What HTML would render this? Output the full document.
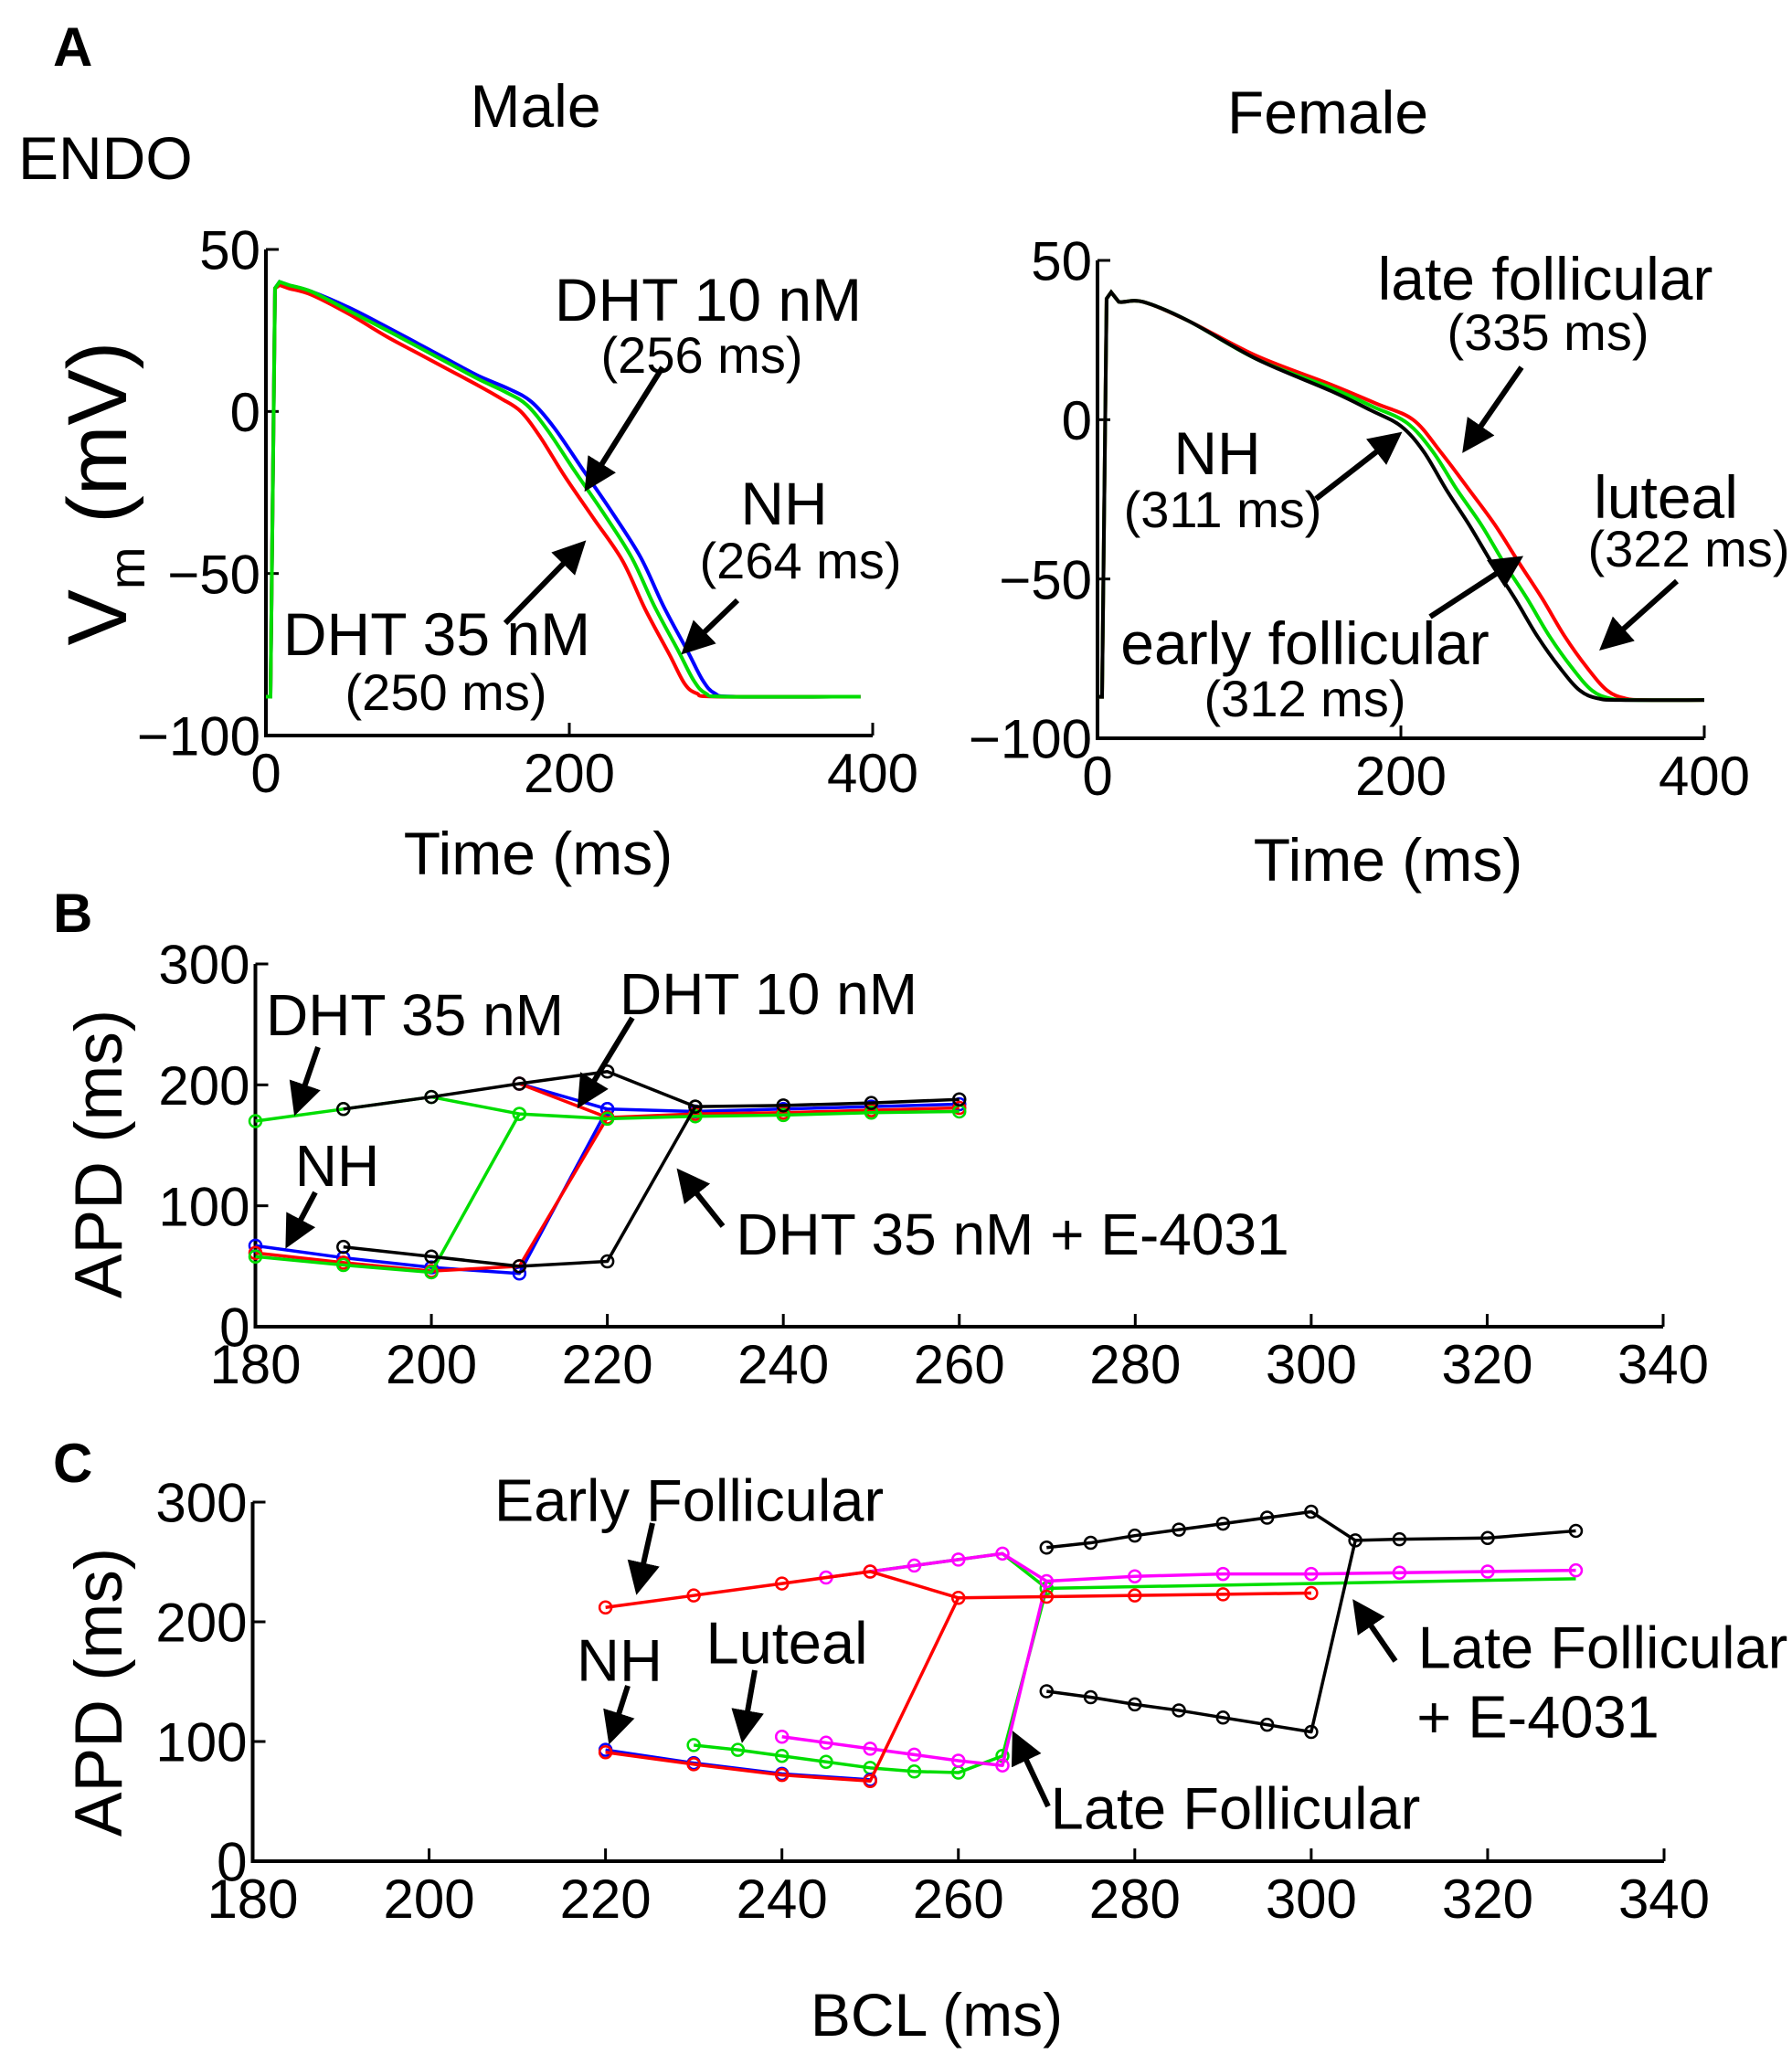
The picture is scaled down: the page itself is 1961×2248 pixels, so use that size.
<!DOCTYPE html>
<html><head><meta charset="utf-8"><style>
html,body{margin:0;padding:0;background:#fff;}
svg{display:block;font-family:"Liberation Sans",sans-serif;}
</style></head><body>
<svg id="fig" width="1961" height="2248" viewBox="0 0 1961 2248" xmlns="http://www.w3.org/2000/svg">
<defs><marker id="ah" markerWidth="6" markerHeight="6" refX="4" refY="3" orient="auto" markerUnits="strokeWidth"><path d="M0,0 L6,3 L0,6 z" fill="#000"/></marker></defs>
<g id="static" fill="#000">
<text x="58" y="72" font-size="60" font-weight="bold">A</text>
<text x="586" y="139" font-size="66" text-anchor="middle">Male</text>
<text x="1453" y="146" font-size="66" text-anchor="middle">Female</text>
<text x="20" y="196" font-size="66">ENDO</text>
<text transform="translate(138,540) rotate(-90)" font-size="92" text-anchor="middle">V<tspan font-size="56" dy="20">m</tspan><tspan dy="-20"> (mV)</tspan></text>
<text x="589" y="957" font-size="66" text-anchor="middle">Time (ms)</text>
<text x="1519" y="964" font-size="66" text-anchor="middle">Time (ms)</text>
<text x="58" y="1020" font-size="60" font-weight="bold">B</text>
<text transform="translate(133,1263) rotate(-90)" font-size="73" text-anchor="middle">APD (ms)</text>
<text x="58" y="1622" font-size="60" font-weight="bold">C</text>
<text transform="translate(133,1852) rotate(-90)" font-size="73" text-anchor="middle">APD (ms)</text>
<text x="1025" y="2228" font-size="66" text-anchor="middle">BCL (ms)</text>
</g>
<g id="plots"></g>
</svg>
<script>
// ---- Panel A male data (t ms, V mV)
const maleNH_t=[0,3,6,9,15,30,55,80,100,120,140,160,175,190,209,228,247,262,278,288,296,310,392];
const maleNH_v=[-88,-88,38,40,39,37,32,26,21,16,11,7,3,-5,-18,-31,-45,-60,-74,-83,-87,-88,-88];
const male10_t=[0,3,6,9,15,30,55,80,100,120,140,158,172,186,203,222,241,256,272,282,290,304,392];
const male10_v=[-88,-88,38,40,39,37,31,25,20,15,10,6,2,-6,-18,-31,-45,-60,-74,-83,-87,-88,-88];
const male35_t=[0,3,6,9,15,30,55,80,100,120,140,155,168,181,197,216,235,250,266,276,284,298,392];
const male35_v=[-88,-88,38,39,38,36,30,23,18,13,8,4,0,-8,-20,-33,-46,-61,-75,-84,-87,-88,-88];
// ---- Panel A female data
const femNH_t=[0,3,6,9,14,30,60,105,154,180,200,215,230,245,260,275,290,305,318,330,345,400];
const femNH_v=[-87,-87,38,40,37,37,31,19,9,3,-2,-10,-22,-33,-45,-56,-68,-78,-85,-87.5,-88,-88];
const femLut_t=[0,3,6,9,14,30,60,105,154,182,204,221,237,253,268,283,298,313,326,338,353,400];
const femLut_v=[-87,-87,38,40,37,37,31,19,10,4,-1,-10,-22,-33,-45,-56,-68,-78,-85,-87.5,-88,-88];
const femLate_t=[0,3,6,9,14,30,60,105,154,184,208,226,245,262,278,293,308,323,336,348,362,400];
const femLate_v=[-87,-87,38,40,37,37,31,20,11,5,0,-10,-22,-33,-45,-56,-68,-78,-85,-87.5,-88,-88];
const aYTicks=[50,0,-50,-100];
const aXTicks=[0,200,400];
// ---- Panel B data (BCL, APD)
const bBlack1_x=[190,200,210,220,230,240,250,260];
const bBlack1_y=[180,190,201,211,182,183,185,188];
const bBlack2_x=[190,200,210,220,230];
const bBlack2_y=[66,58,50,54,182];
const bGreen1_x=[180,190,200,210,220,230,240,250,260];
const bGreen1_y=[170,180,190,176,172,174,175,177,178];
const bGreen2_x=[180,190,200,210];
const bGreen2_y=[58,51,45,176];
const bBlue1_x=[210,220,230,240,250,260];
const bBlue1_y=[201,180,178,180,182,184];
const bBlue2_x=[180,190,200,210,220];
const bBlue2_y=[67,57,49,44,180];
const bRed1_x=[210,220,230,240,250,260];
const bRed1_y=[201,173,176,177,179,181];
const bRed2_x=[180,190,200,210,220];
const bRed2_y=[61,53,46,50,173];
// ---- Panel C data
const cBlackU_x=[270,275,280,285,290,295,300,305];
const cBlackU_y=[262,266,272,277,282,287,292,268];
const cBlackL_x=[270,275,280,285,290,295,300,305,310,320,330];
const cBlackL_y=[142,137,131,126,120,114,108,268,269,270,276];
const cMagU_x=[245,250,255,260,265,270];
const cMagU_y=[237,242,247,252,257,234];
const cMagL_x=[240,245,250,255,260,265,270,280,290,300,310,320,330];
const cMagL_y=[104,99,94,89,84,80,234,238,240,240,241,242,243];
const cGreenU_x=[250,265,270,330];
const cGreenU_y=[242,257,228,236];
const cGreenL_x=[230,235,240,245,250,255,260,265,270];
const cGreenL_y=[97,93,88,83,78,75,74,88,228];
const cBlue_x=[220,230,240,250];
const cBlue_y=[93,82,73,68];
const cRedU_x=[220,230,240,250,260,270,280,290,300];
const cRedU_y=[212,222,232,242,220,221,222,223,224];
const cRedL_x=[220,230,240,250,260];
const cRedL_y=[91,81,72,67,220];
const bcTicksY=[0,100,200,300];
const bcTicksX=[180,200,220,240,260,280,300,320,340];

const NS='http://www.w3.org/2000/svg';
const root=document.getElementById('plots');
function mk(tag,attrs,parent){const e=document.createElementNS(NS,tag);for(const k in attrs)e.setAttribute(k,attrs[k]);(parent||root).appendChild(e);return e;}
function lin(d0,d1,r0,r1){return v=>r0+(v-d0)/(d1-d0)*(r1-r0);}
function smoothPath(xs,ys){let d='M'+xs[0]+','+ys[0];for(let i=0;i<xs.length-1;i++){const x0=xs[Math.max(0,i-1)],y0=ys[Math.max(0,i-1)],x1=xs[i],y1=ys[i],x2=xs[i+1],y2=ys[i+1],x3=xs[Math.min(xs.length-1,i+2)],y3=ys[Math.min(xs.length-1,i+2)];const k=(i<4)?0:1/6;d+=' C'+(x1+(x2-x0)*k)+','+(y1+(y2-y0)*k)+' '+(x2-(x3-x1)*k)+','+(y2-(y3-y1)*k)+' '+x2+','+y2;}return d;}
function axes(g,x0,x1,y0,y1,sx,sy,xt,yt,fs){
  const a=mk('path',{d:`M${x0},${y1} L${x0},${y0} L${x1},${y0}`,stroke:'#000','stroke-width':4,fill:'none'},g);
  
  
  xt.forEach(v=>{const X=sx(v);const t=mk('line',{x1:X,x2:X,y1:y0,y2:y0-14,stroke:'#000','stroke-width':3},g);
    
    
    const l=mk('text',{x:X,y:y0+fs+2,'font-size':fs,'text-anchor':'middle'},g);l.textContent=v;
    
    });
  yt.forEach(v=>{const Y=sy(v);const t=mk('line',{x1:x0,x2:x0+14,y1:Y,y2:Y,stroke:'#000','stroke-width':3},g);
    
    
    const l=mk('text',{x:x0-6,y:Y+fs*0.36,'font-size':fs,'text-anchor':'end'},g);l.textContent=(v<0?'\u2212'+(-v):v);
    
    });
}
function curve(g,ts,vs,sx,sy,col,name){const p=mk('path',{d:smoothPath(ts.map(sx),vs.map(sy)),stroke:col,'stroke-width':4,fill:'none'},g);
  
  }
function series(g,xs,ys,sx,sy,col,name,markers){
  const pts=xs.map((x,i)=>sx(x)+','+sy(ys[i])).join(' ');
  const p=mk('polyline',{points:pts,stroke:col,'stroke-width':3.5,fill:'none','stroke-linejoin':'round'},g);
  
  
  xs.forEach((x,i)=>{if(markers&&!markers(i))return;const c=mk('circle',{cx:sx(x),cy:sy(ys[i]),r:6.5,stroke:col,'stroke-width':2.5,fill:'none'},g);
    
    });
}
function txt(g,x,cy,s,fs,name){const t=mk('text',{x:x,y:cy+fs*0.36,'font-size':fs,'text-anchor':'middle'},g);t.textContent=s;
  
  }
function arrow(g,x1,y1,x2,y2,name){const l=mk('line',{x1:x1,y1:y1,x2:x2,y2:y2,stroke:'#000','stroke-width':6,'marker-end':'url(#ah)'},g);
  
  }
const TF=60, LF=66, PF=56;

// Male panel
let g=mk('g',{});


let sx=lin(0,400,291,955),sy=lin(-100,50,805,273);
axes(g,291,955,805,273,sx,sy,aXTicks,aYTicks,TF);
curve(g,maleNH_t,maleNH_v,sx,sy,'#0000ff','male-nh-curve');
curve(g,male35_t,male35_v,sx,sy,'#ff0000','male-dht35-curve');
curve(g,male10_t,male10_v,sx,sy,'#00dd00','male-dht10-curve');
txt(g,775,327,'DHT 10 nM',LF,'dht10-label');txt(g,768,388,'(256 ms)',PF,'dht10-apd');
txt(g,858,550,'NH',LF,'male-nh-label');txt(g,876,613,'(264 ms)',PF,'male-nh-apd');
txt(g,478,693,'DHT 35 nM',LF,'dht35-label');txt(g,488,757,'(250 ms)',PF,'dht35-apd');
arrow(g,725,402,646,528,'dht10-arrow');arrow(g,553,682,633,600,'dht35-arrow');arrow(g,807,657,754,708,'male-nh-arrow');

// Female panel
g=mk('g',{});


sx=lin(0,400,1201,1865);sy=lin(-100,50,808,285);
axes(g,1201,1865,808,285,sx,sy,aXTicks,aYTicks,TF);
curve(g,femLate_t,femLate_v,sx,sy,'#ff0000','late-follicular-curve');
curve(g,femLut_t,femLut_v,sx,sy,'#00dd00','luteal-curve');
curve(g,femNH_t,femNH_v,sx,sy,'#000000','female-nh-curve');
txt(g,1691,304,'late follicular',LF,'late-follicular-label');txt(g,1694,363,'(335 ms)',PF,'late-follicular-apd');
txt(g,1332,495,'NH',LF,'female-nh-label');txt(g,1338,557,'(311 ms)',PF,'female-nh-apd');
txt(g,1823,543,'luteal',LF,'luteal-label');txt(g,1848,600,'(322 ms)',PF,'luteal-apd');
txt(g,1428,703,'early follicular',LF,'early-follicular-label');txt(g,1428,764,'(312 ms)',PF,'early-follicular-apd');
arrow(g,1665,402,1607,486,'late-follicular-arrow');arrow(g,1440,546,1525,480,'female-nh-arrow');
arrow(g,1835,636,1759,704,'luteal-arrow');arrow(g,1565,675,1657,615,'early-follicular-arrow');

// Panel B
g=mk('g',{});


sx=lin(180,340,279.5,1820);sy=lin(0,300,1452,1055);
axes(g,279.5,1820,1452,1055,sx,sy,bcTicksX,bcTicksY,TF);
series(g,bBlue2_x,bBlue2_y,sx,sy,'#0000ff','b-nh-low');series(g,bBlue1_x,bBlue1_y,sx,sy,'#0000ff','b-nh-high');
series(g,bRed2_x,bRed2_y,sx,sy,'#ff0000','b-dht10-low');series(g,bRed1_x,bRed1_y,sx,sy,'#ff0000','b-dht10-high');
series(g,bGreen2_x,bGreen2_y,sx,sy,'#00dd00','b-dht35-low');series(g,bGreen1_x,bGreen1_y,sx,sy,'#00dd00','b-dht35-high');
series(g,bBlack1_x,bBlack1_y,sx,sy,'#000000','b-e4031-high');series(g,bBlack2_x,bBlack2_y,sx,sy,'#000000','b-e4031-low');
txt(g,454,1110,'DHT 35 nM',64,'b-dht35-label');txt(g,841,1087,'DHT 10 nM',64,'b-dht10-label');
txt(g,369,1275,'NH',64,'b-nh-label');txt(g,1108,1350,'DHT 35 nM + E-4031',64,'b-e4031-label');
arrow(g,348,1146,326,1210,'b-dht35-arrow');arrow(g,692,1114,638,1203,'b-dht10-arrow');
arrow(g,345,1305,318,1356,'b-nh-arrow');arrow(g,791,1342,748,1288,'b-e4031-arrow');

// Panel C
g=mk('g',{});


sx=lin(180,340,276.5,1821);sy=lin(0,300,2037,1644);
axes(g,276.5,1821,2037,1644,sx,sy,bcTicksX,bcTicksY,TF);
series(g,cGreenU_x,cGreenU_y,sx,sy,'#00dd00','c-luteal-high',()=>false);
series(g,cGreenL_x,cGreenL_y,sx,sy,'#00dd00','c-luteal-low');
series(g,cBlue_x,cBlue_y,sx,sy,'#0000ff','c-nh');
series(g,cMagU_x,cMagU_y,sx,sy,'#ff00ff','c-late-follicular-high',i=>i<5);
series(g,cMagL_x,cMagL_y,sx,sy,'#ff00ff','c-late-follicular-low');
series(g,cRedU_x,cRedU_y,sx,sy,'#ff0000','c-early-follicular-high');
series(g,cRedL_x,cRedL_y,sx,sy,'#ff0000','c-early-follicular-low',i=>i<4);
series(g,cBlackU_x,cBlackU_y,sx,sy,'#000000','c-e4031-high',i=>i<7);
series(g,cBlackL_x,cBlackL_y,sx,sy,'#000000','c-e4031-low');
txt(g,754,1641,'Early Follicular',65,'c-early-follicular-label');
txt(g,678,1816,'NH',65,'c-nh-label');txt(g,861,1797,'Luteal',65,'c-luteal-label');
txt(g,1352,1978,'Late Follicular',65,'c-late-follicular-label');
txt(g,1754,1802,'Late Follicular',65,'c-e4031-label-1');txt(g,1683,1878,'+ E-4031',65,'c-e4031-label-2');
arrow(g,714,1667,699,1734,'c-early-follicular-arrow');arrow(g,687,1845,670,1898,'c-nh-arrow');
arrow(g,826,1828,814,1896,'c-luteal-arrow');arrow(g,1147,1977,1113,1905,'c-late-follicular-arrow');
arrow(g,1527,1818,1487,1760,'c-e4031-arrow');
</script>
</body></html>
